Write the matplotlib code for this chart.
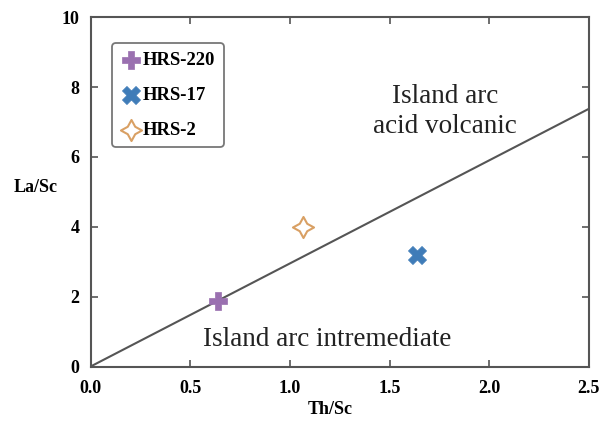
import matplotlib
matplotlib.use("Agg")
import matplotlib.pyplot as plt
import numpy as np

samples = ["HRS-220", "HRS-17", "HRS-2"]
th_sc = [0.64, 1.64, 1.065]
la_sc = [1.88, 3.18, 4.0]
colors = ["#9a70b0", "#3f7cb8", "#d9a064"]
line_x = [0.0, 2.5]
line_y = [0.0, 7.38]
xticks = [0.0, 0.5, 1.0, 1.5, 2.0, 2.5]
xticklabels = ["0.0", "0.5", "1.0", "1.5", "2.0", "2.5"]
yticks = [0, 2, 4, 6, 8, 10]
yticklabels = ["0", "2", "4", "6", "8", "10"]

plt.rcParams['font.family'] = ['Liberation Serif', 'DejaVu Serif']

fig = plt.figure(figsize=(6.04, 4.24), dpi=100)
ax = fig.add_axes([0.150, 0.1356, 0.825, 0.8236])
ax.set_xlim(0, 2.5)
ax.set_ylim(0, 10)

ax.plot(line_x, line_y, color="#555555", lw=1.5, zorder=2)

star = (4, 1, 0)
markers = ["P", "X", star]
for i, s in enumerate(samples):
    if i == 2:
        ax.scatter(th_sc[i], la_sc[i], marker=star, s=230, facecolor="white",
                   edgecolor=colors[i], linewidth=1.5, label=s, zorder=3)
    else:
        ax.scatter(th_sc[i], la_sc[i], marker=markers[i], s=170, color=colors[i],
                   edgecolor=colors[i], linewidth=0.5, label=s, zorder=3)

ax.text(1.777, 7.31, "Island arc\nacid volcanic", ha="center", va="center",
        fontsize=19.5, linespacing=1.25, color="#222222")
ax.text(1.185, 0.78, "Island arc intremediate", ha="center", va="center",
        fontsize=19.5, color="#222222")

ax.set_xticks(xticks)
ax.set_xticklabels(xticklabels, fontweight="bold", fontsize=13)
ax.set_yticks(yticks)
ax.set_yticklabels(yticklabels, fontweight="bold", fontsize=13)
ax.tick_params(axis="x", direction="in", top=True, length=5, width=1.2,
               color="#555555", pad=10)
ax.tick_params(axis="y", direction="in", right=True, length=5, width=1.2,
               color="#555555", pad=8)
for sp in ax.spines.values():
    sp.set_color("#555555")
    sp.set_linewidth(1.5)

ax.set_xlabel("Th/Sc", fontweight="bold", fontsize=13)
ax.xaxis.set_label_coords(0.48, -0.1)
ax.set_ylabel("La/Sc", fontweight="bold", fontsize=13, rotation=0, va="center")
ax.yaxis.set_label_coords(-0.11, 0.514)

leg = ax.legend(loc="upper left", bbox_to_anchor=(0.043, 0.926), frameon=True,
                prop={"weight": "bold", "size": 13.5}, handletextpad=0.1,
                borderpad=0.45, labelspacing=0.95, handlelength=1.1,
                borderaxespad=0, fancybox=True, edgecolor="#555555",
                markerscale=1.0)
leg.get_frame().set_linewidth(1.3)

fig.savefig("out.png", dpi=100)
